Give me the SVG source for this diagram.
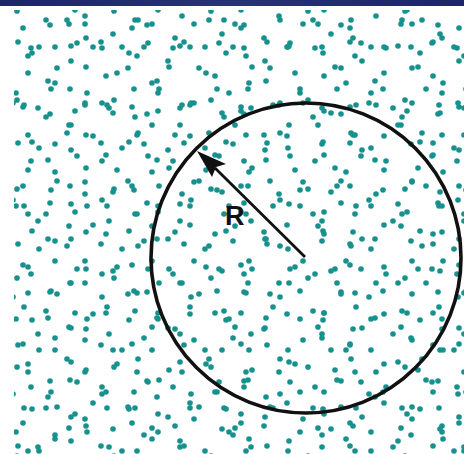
<svg xmlns="http://www.w3.org/2000/svg" width="464" height="454" viewBox="0 0 464 454">
<style>
.d{fill:#16918e}
.ring{fill:none;stroke:#111;stroke-width:3.6}
.shaft{stroke:#111;stroke-width:2.8;fill:none}
.head{fill:#111}
.lbl{font-family:"Liberation Sans",Arial,sans-serif;font-weight:bold;font-size:27px;fill:#111}
</style>
<defs>
<linearGradient id="bar" x1="0" y1="0" x2="1" y2="0">
<stop offset="0" stop-color="#1c2566"/><stop offset="0.5" stop-color="#27327a"/><stop offset="1" stop-color="#1c2566"/>
</linearGradient>
<pattern id="pA" patternUnits="userSpaceOnUse" x="5" y="3" width="97" height="89">
<circle class="d" cx="12" cy="8" r="2.8"/><circle class="d" cx="45" cy="22" r="2.8"/><circle class="d" cx="80" cy="13" r="2.8"/><circle class="d" cx="27" cy="50" r="2.8"/><circle class="d" cx="66" cy="58" r="2.8"/><circle class="d" cx="88" cy="44" r="2.8"/><circle class="d" cx="50" cy="80" r="2.8"/>
</pattern>
<pattern id="pB" patternUnits="userSpaceOnUse" x="31" y="17" width="83" height="101">
<circle class="d" cx="8" cy="30" r="2.8"/><circle class="d" cx="38" cy="7" r="2.8"/><circle class="d" cx="70" cy="25" r="2.8"/><circle class="d" cx="20" cy="72" r="2.8"/><circle class="d" cx="55" cy="50" r="2.8"/><circle class="d" cx="76" cy="88" r="2.8"/><circle class="d" cx="44" cy="94" r="2.8"/>
</pattern>
<pattern id="pC" patternUnits="userSpaceOnUse" x="13" y="41" width="109" height="79">
<circle class="d" cx="15" cy="15" r="2.8"/><circle class="d" cx="58" cy="5" r="2.8"/><circle class="d" cx="93" cy="35" r="2.8"/><circle class="d" cx="35" cy="40" r="2.8"/><circle class="d" cx="72" cy="62" r="2.8"/><circle class="d" cx="10" cy="66" r="2.8"/><circle class="d" cx="100" cy="72" r="2.8"/>
</pattern>
<pattern id="pD" patternUnits="userSpaceOnUse" x="47" y="8" width="71" height="113">
<circle class="d" cx="20" cy="12" r="2.8"/><circle class="d" cx="55" cy="40" r="2.8"/><circle class="d" cx="10" cy="60" r="2.8"/><circle class="d" cx="40" cy="85" r="2.8"/><circle class="d" cx="62" cy="100" r="2.8"/><circle class="d" cx="30" cy="35" r="2.8"/>
</pattern>
<pattern id="pE" patternUnits="userSpaceOnUse" x="22" y="29" width="89" height="97">
<circle class="d" cx="6" cy="44" r="2.8"/><circle class="d" cx="33" cy="18" r="2.8"/><circle class="d" cx="64" cy="9" r="2.8"/><circle class="d" cx="48" cy="60" r="2.8"/><circle class="d" cx="80" cy="74" r="2.8"/><circle class="d" cx="24" cy="88" r="2.8"/>
</pattern>
</defs>
<rect x="0" y="0" width="464" height="454" fill="#ffffff"/>
<g id="dots">
<rect x="14" y="10" width="450" height="444" fill="url(#pA)"/>
<rect x="14" y="10" width="450" height="444" fill="url(#pB)"/>
<rect x="14" y="10" width="450" height="444" fill="url(#pC)"/>
<rect x="14" y="10" width="450" height="444" fill="url(#pD)"/>
<rect x="14" y="10" width="450" height="444" fill="url(#pE)"/>
</g>
<rect id="topbar" x="0" y="0" width="464" height="6" fill="url(#bar)"/>
<g id="circle">
<circle class="ring" cx="306" cy="258" r="155"/>
</g>
<g id="connectors">
<line class="shaft" x1="305" y1="257" x2="215" y2="168"/>
<polygon class="head" points="197,151 226,164 216,167 212,177"/>
</g>
<g id="label">
<text class="lbl" x="225" y="225">R</text>
</g>
</svg>
